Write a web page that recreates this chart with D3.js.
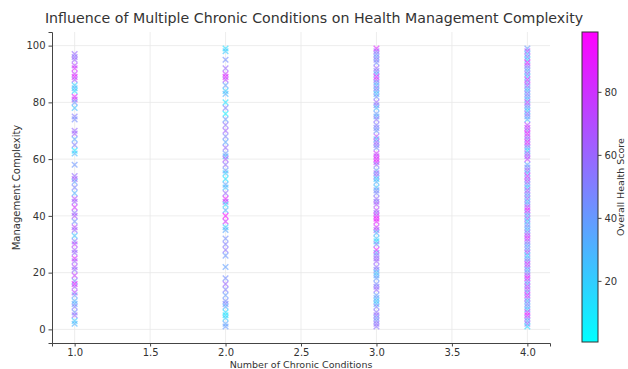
<!DOCTYPE html>
<html>
<head>
<meta charset="utf-8">
<script src="https://cdn.jsdelivr.net/npm/d3@7"></script>
<style>
  html, body { margin: 0; padding: 0; background: #fff; overflow: hidden; }
  svg { display: block; }
  text { font-family: "DejaVu Sans", sans-serif; }
</style>
</head>
<body>
<div id="chart"></div>
<script>
const conditions = [1, 2, 3, 4];
const xTicks = [1.0, 1.5, 2.0, 2.5, 3.0, 3.5, 4.0];
const yTicks = [0, 20, 40, 60, 80, 100];
const cbTicks = [20, 40, 60, 80];

const complexity1 = [97, 96, 95, 93, 92, 90, 89, 88, 86, 85, 84, 82, 81, 80, 78, 75, 74, 70, 69, 67, 65, 63, 62, 58, 54, 53, 52, 50, 48, 46, 45, 43, 41, 40, 38, 36, 35, 33, 31, 30, 28, 27, 25, 24, 22, 21, 19, 17, 16, 15, 13, 12, 10, 9, 8, 6, 5, 3, 2];
const health1 = [60, 55, 62, 70, 85, 78, 90, 66, 20, 30, 15, 88, 72, 40, 25, 52, 45, 60, 64, 35, 50, 10, 28, 42, 58, 66, 38, 48, 30, 70, 62, 80, 55, 68, 44, 72, 60, 25, 50, 75, 66, 58, 84, 62, 70, 55, 76, 48, 90, 64, 72, 40, 30, 35, 52, 45, 60, 22, 30];

const complexity2 = [99, 98, 95, 92, 90, 89, 88, 86, 84, 83, 80, 78, 76, 74, 72, 70, 68, 66, 64, 62, 61, 60, 58, 56, 55, 53, 51, 50, 48, 46, 45, 44, 42, 40, 38, 36, 35, 32, 30, 28, 26, 22, 18, 16, 14, 12, 10, 9, 8, 6, 5, 4, 2, 1];
const health2 = [15, 22, 45, 60, 75, 90, 70, 38, 20, 30, 12, 50, 8, 40, 55, 62, 48, 35, 58, 42, 30, 66, 55, 40, 20, 12, 35, 25, 60, 88, 70, 18, 30, 95, 80, 20, 35, 45, 50, 55, 42, 38, 45, 60, 50, 40, 45, 48, 30, 15, 10, 20, 35, 40];

const complexity3 = [99, 98, 97, 96, 95, 94, 92, 91, 90, 89, 88, 87, 86, 85, 84, 83, 82, 80, 79, 78, 76, 75, 74, 72, 71, 70, 68, 67, 66, 65, 64, 62, 61, 60, 59, 58, 56, 55, 54, 53, 52, 50, 49, 48, 46, 45, 44, 42, 41, 40, 39, 38, 36, 35, 34, 32, 31, 30, 28, 27, 26, 25, 24, 22, 21, 20, 19, 18, 16, 15, 14, 12, 11, 10, 9, 8, 6, 5, 4, 3, 2, 1];
const health3 = [85, 60, 48, 40, 55, 45, 62, 50, 35, 88, 70, 42, 30, 55, 38, 25, 45, 60, 50, 28, 40, 35, 55, 52, 48, 42, 70, 30, 62, 58, 45, 80, 75, 90, 85, 55, 40, 62, 50, 20, 30, 25, 45, 48, 58, 55, 68, 72, 60, 82, 95, 88, 80, 66, 30, 25, 15, 50, 90, 40, 55, 60, 62, 58, 48, 25, 30, 40, 45, 55, 60, 40, 35, 22, 28, 50, 55, 60, 42, 48, 58, 55];

const complexity4 = [99, 98, 97, 96, 95, 94, 93, 92, 91, 90, 89, 88, 87, 86, 85, 84, 83, 82, 81, 80, 79, 78, 77, 76, 75, 74, 72, 71, 70, 69, 68, 67, 66, 65, 64, 63, 62, 61, 60, 58, 57, 56, 55, 54, 53, 52, 51, 50, 49, 48, 47, 46, 45, 44, 43, 42, 41, 40, 39, 38, 37, 36, 35, 34, 33, 32, 31, 30, 29, 28, 27, 26, 25, 24, 23, 22, 21, 20, 19, 18, 17, 16, 15, 14, 13, 12, 11, 10, 9, 8, 7, 6, 5, 4, 3, 2, 1];
const health4 = [40, 70, 30, 55, 20, 90, 62, 45, 35, 60, 25, 85, 48, 70, 35, 30, 55, 42, 28, 75, 50, 38, 22, 60, 45, 30, 72, 80, 60, 92, 66, 55, 88, 70, 40, 20, 65, 58, 75, 35, 48, 62, 30, 82, 55, 70, 42, 25, 68, 50, 38, 60, 28, 45, 75, 90, 55, 35, 62, 22, 48, 40, 30, 58, 72, 85, 60, 45, 35, 50, 66, 20, 40, 55, 80, 62, 30, 48, 70, 92, 55, 38, 75, 65, 45, 88, 60, 30, 50, 40, 25, 78, 92, 55, 35, 60, 18];

const columns = [
  { cond: conditions[0], ys: complexity1, hs: health1 },
  { cond: conditions[1], ys: complexity2, hs: health2 },
  { cond: conditions[2], ys: complexity3, hs: health3 },
  { cond: conditions[3], ys: complexity4, hs: health4 }
];
const points = columns.flatMap(c => c.ys.map((y, i) => ({ x: c.cond, y: y, h: c.hs[i] })));

const width = 628, height = 369;
const margin = { top: 32, right: 78, bottom: 26, left: 52 };
const innerWidth = width - margin.left - margin.right;
const innerHeight = height - margin.top - margin.bottom;

const svg = d3.select("#chart").append("svg")
  .attr("width", width)
  .attr("height", height);

const g = svg.append("g")
  .attr("transform", `translate(${margin.left},${margin.top})`);

const xScale = d3.scaleLinear().domain([0.85, 4.15]).range([0, innerWidth]);
const yScale = d3.scaleLinear().domain([-4.8, 104.8]).range([innerHeight, 0]);
const hScale = d3.scaleLinear().domain([0.6, 99]).range([0, 1]);
const cool = t => d3.rgb(255 * t, 255 * (1 - t), 255).formatHex();

// grid
g.append("g")
  .selectAll("line")
  .data(xTicks)
  .enter().append("line")
  .attr("x1", d => xScale(d)).attr("x2", d => xScale(d))
  .attr("y1", 0).attr("y2", innerHeight)
  .attr("stroke", "#e8e8e8").attr("stroke-width", 0.8);
g.append("g")
  .selectAll("line")
  .data(yTicks)
  .enter().append("line")
  .attr("y1", d => yScale(d)).attr("y2", d => yScale(d))
  .attr("x1", 0).attr("x2", innerWidth)
  .attr("stroke", "#e8e8e8").attr("stroke-width", 0.8);

// points as 'x' markers
const s = 2.8;
g.append("g")
  .selectAll("path")
  .data(points)
  .enter().append("path")
  .attr("transform", d => `translate(${xScale(d.x)},${yScale(d.y)})`)
  .attr("d", `M${-s},${-s}L${s},${s}M${-s},${s}L${s},${-s}`)
  .attr("stroke", d => cool(hScale(d.h)))
  .attr("stroke-width", 1.4)
  .attr("stroke-opacity", 0.6)
  .attr("fill", "none");

// axes
const xAxis = g.append("g")
  .attr("transform", `translate(0,${innerHeight})`)
  .call(d3.axisBottom(xScale).tickValues(xTicks).tickFormat(d3.format(".1f")).tickSizeOuter(0).tickSize(3.5).tickPadding(2));
const yAxis = g.append("g")
  .call(d3.axisLeft(yScale).tickValues(yTicks).tickSizeOuter(0).tickSize(3.5).tickPadding(3));
[xAxis, yAxis].forEach(a => {
  a.select(".domain").attr("stroke", "#444").attr("stroke-width", 1);
  a.selectAll(".tick line").attr("stroke", "#444");
  a.selectAll(".tick text").attr("fill", "#333").style("font-size", "10px");
});

g.append("text")
  .attr("x", innerWidth / 2)
  .attr("y", innerHeight + 24.5)
  .attr("text-anchor", "middle")
  .attr("fill", "#333")
  .style("font-size", "9.5px")
  .text("Number of Chronic Conditions");

g.append("text")
  .attr("transform", "rotate(-90)")
  .attr("x", -innerHeight / 2)
  .attr("y", -margin.left + 20)
  .attr("text-anchor", "middle")
  .attr("fill", "#333")
  .style("font-size", "10px")
  .text("Management Complexity");

svg.append("text")
  .attr("x", 314)
  .attr("y", 23)
  .attr("text-anchor", "middle")
  .attr("fill", "#333")
  .style("font-size", "14.2px")
  .text("Influence of Multiple Chronic Conditions on Health Management Complexity");

// colorbar
const cbX = 582, cbW = 16, cbTop = 32, cbBottom = 342;
const grad = svg.append("defs").append("linearGradient")
  .attr("id", "cbgrad").attr("x1", 0).attr("y1", 1).attr("x2", 0).attr("y2", 0);
grad.append("stop").attr("offset", "0%").attr("stop-color", cool(0));
grad.append("stop").attr("offset", "100%").attr("stop-color", cool(1));
svg.append("rect")
  .attr("x", cbX).attr("y", cbTop)
  .attr("width", cbW).attr("height", cbBottom - cbTop)
  .attr("fill", "url(#cbgrad)")
  .attr("stroke", "#333").attr("stroke-width", 1);

const cbScale = d3.scaleLinear().domain([0.6, 99]).range([cbBottom, cbTop]);
const cbAxis = svg.append("g")
  .attr("transform", `translate(${cbX + cbW},0)`)
  .call(d3.axisRight(cbScale).tickValues(cbTicks).tickSize(3.5).tickPadding(3));
cbAxis.select(".domain").remove();
cbAxis.selectAll(".tick line").attr("stroke", "#444");
cbAxis.selectAll(".tick text").attr("fill", "#333").style("font-size", "10px");

svg.append("text")
  .attr("transform", "rotate(-90)")
  .attr("x", -(cbTop + cbBottom) / 2)
  .attr("y", 624)
  .attr("text-anchor", "middle")
  .attr("fill", "#333")
  .style("font-size", "9.5px")
  .text("Overall Health Score");
</script>
</body>
</html>
